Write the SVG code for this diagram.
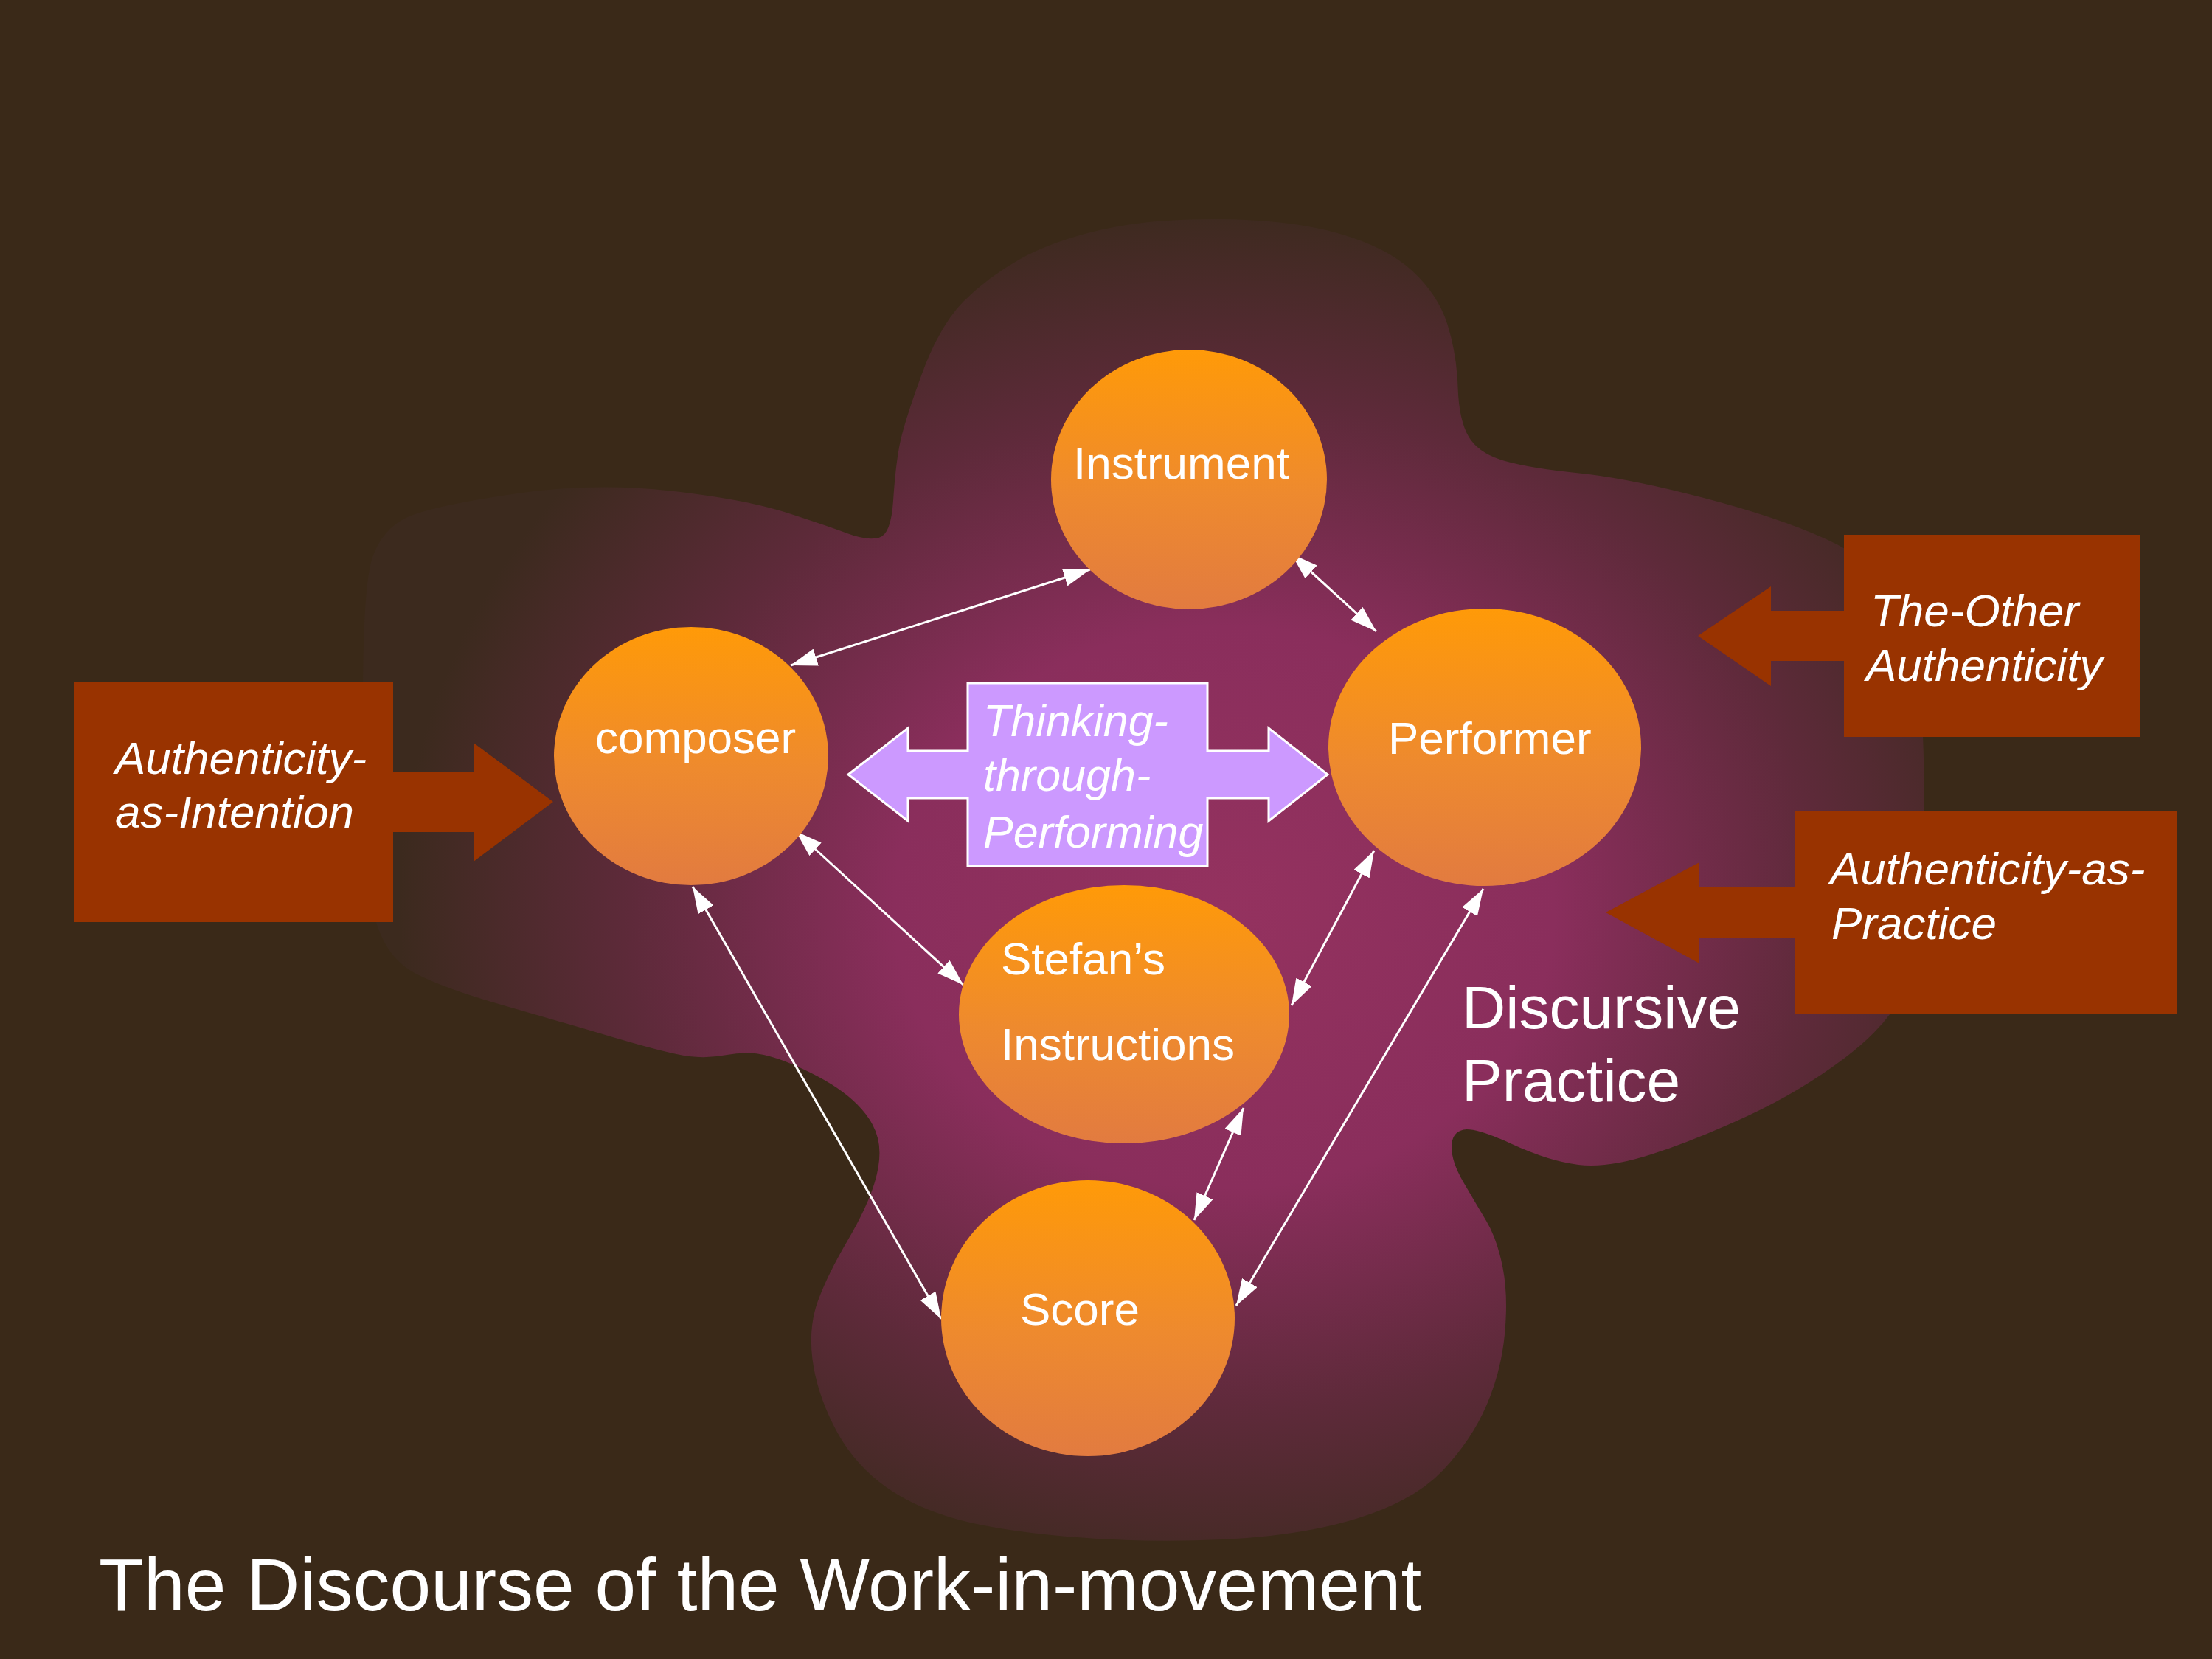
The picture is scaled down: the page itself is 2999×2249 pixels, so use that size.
<svg xmlns="http://www.w3.org/2000/svg" width="2999" height="2249" viewBox="0 0 2999 2249">
<defs>
<style>
.lbl{font-family:"Liberation Sans",Arial,sans-serif;fill:#ffffff;font-size:62px}
.it{font-style:italic}
.node{fill:url(#orange)}
.conn{stroke:#ffffff;stroke-width:3;fill:none;marker-start:url(#ah);marker-end:url(#ah)}
.brown{fill:#993300}
</style>
<linearGradient id="orange" x1="0" y1="0" x2="0" y2="1">
<stop offset="0" stop-color="#ff9a08"/>
<stop offset="0.55" stop-color="#ee8a2e"/>
<stop offset="1" stop-color="#e27b40"/>
</linearGradient>
<radialGradient id="blobg" gradientUnits="userSpaceOnUse" cx="1660" cy="1230" r="1120" gradientTransform="translate(1660 1230) scale(1 0.85) translate(-1660 -1230)">
<stop offset="0" stop-color="#94325f"/>
<stop offset="0.4" stop-color="#8a2e5c"/>
<stop offset="0.72" stop-color="#5e2a3a"/>
<stop offset="1" stop-color="#3c2a1e"/>
</radialGradient>
<marker id="ah" markerUnits="userSpaceOnUse" markerWidth="36" markerHeight="24" refX="36" refY="12" orient="auto-start-reverse" viewBox="0 0 36 24">
<path d="M0,0 L36,12 L0,24 Z" fill="#ffffff"/>
</marker>
</defs>
<rect x="0" y="0" width="2999" height="2249" fill="#3a2918"/>
<g id="discursive-practice">
<path fill="url(#blobg)" d="M1249.5,508 Q1274,441 1306.5,408.5 Q1339,376 1382.5,351.5 Q1426,327 1493,311.5 Q1560,296 1655,297 Q1750,298 1815,316.5 Q1880,335 1915,367.5 Q1950,400 1962.5,440 Q1975,480 1976.5,525 Q1978,570 1991.5,592.5 Q2005,615 2040.5,625 Q2076,635 2141,641.5 Q2206,648 2308,674.5 Q2410,701 2475,730.5 Q2540,760 2570,805 Q2600,850 2606,975 Q2612,1100 2606,1200 Q2600,1300 2580,1345 Q2560,1390 2500,1435 Q2440,1480 2370,1512.5 Q2300,1545 2240,1564.5 Q2180,1584 2140,1579 Q2100,1574 2050,1551 Q2000,1528 1984,1531.5 Q1968,1535 1968,1555 Q1968,1575 1984,1602.5 Q2000,1630 2015,1655 Q2030,1680 2037.5,1719 Q2045,1758 2040,1809 Q2035,1860 2015,1906 Q1995,1952 1956.5,1993 Q1918,2034 1841.5,2058 Q1765,2082 1657.5,2087 Q1550,2092 1447,2083 Q1344,2074 1287,2056.5 Q1230,2039 1191.5,2008.5 Q1153,1978 1130,1932 Q1107,1886 1101.5,1842.5 Q1096,1799 1109,1763.5 Q1122,1728 1149,1682 Q1176,1636 1186,1602.5 Q1196,1569 1190.5,1544.5 Q1185,1520 1162,1497 Q1139,1474 1099.5,1454.5 Q1060,1435 1035.5,1430 Q1011,1425 985.5,1430 Q960,1435 934.5,1432 Q909,1429 832.5,1406.5 Q756,1384 679.5,1362 Q603,1340 564,1320 Q525,1300 510,1250 Q495,1200 492.5,1000 Q490,800 505,756 Q520,712 561.5,697.5 Q603,683 705,668.5 Q807,654 909,665.5 Q1011,677 1066.5,695 Q1122,713 1148.5,723 Q1175,733 1191.5,729 Q1208,725 1211,679 Q1214,633 1219.5,604 Q1225,575 1249.5,508 Z"/>
<text class="lbl" x="1982" y="1394" style="font-size:82px">Discursive</text>
<text class="lbl" x="1982" y="1493" style="font-size:82px">Practice</text>
</g>
<g id="connectors">
<line class="conn" x1="1072" y1="902" x2="1478" y2="772"/>
<line class="conn" x1="1751" y1="751" x2="1866" y2="856"/>
<line class="conn" x1="1079" y1="1127" x2="1306" y2="1335"/>
<line class="conn" x1="1863" y1="1153" x2="1751" y2="1363"/>
<line class="conn" x1="1686" y1="1502" x2="1619" y2="1654"/>
<line class="conn" x1="939" y1="1202" x2="1276" y2="1788"/>
<line class="conn" x1="2011" y1="1205" x2="1676" y2="1770"/>
</g>
<g id="instrument">
<ellipse class="node" cx="1612" cy="650" rx="187" ry="176"/>
<text class="lbl" x="1455" y="649">Instrument</text>
</g>
<g id="composer">
<ellipse class="node" cx="937" cy="1025" rx="186" ry="175"/>
<text class="lbl" x="807" y="1021">composer</text>
</g>
<g id="performer">
<ellipse class="node" cx="2013" cy="1013" rx="212" ry="188"/>
<text class="lbl" x="1882" y="1022">Performer</text>
</g>
<g id="stefans-instructions">
<ellipse class="node" cx="1524" cy="1375" rx="224" ry="175"/>
<text class="lbl" x="1357" y="1321">Stefan’s</text>
<text class="lbl" x="1357" y="1437">Instructions</text>
</g>
<g id="score">
<ellipse class="node" cx="1475" cy="1787" rx="199" ry="187"/>
<text class="lbl" x="1383" y="1796">Score</text>
</g>
<g id="thinking-through-performing">
<path d="M1150,1050 L1231,987 L1231,1018 L1312,1018 L1312,926 L1637,926 L1637,1018 L1720,1018 L1720,987 L1800,1050 L1720,1113 L1720,1082 L1637,1082 L1637,1174 L1312,1174 L1312,1082 L1231,1082 L1231,1113 Z" fill="#cc99ff" stroke="#ffffff" stroke-width="3"/>
<text class="lbl it" x="1333" y="998" style="font-size:61px">Thinking-</text>
<text class="lbl it" x="1333" y="1072" style="font-size:61px">through-</text>
<text class="lbl it" x="1333" y="1149" style="font-size:61px">Performing</text>
</g>
<g id="authenticity-as-intention">
<rect class="brown" x="100" y="925" width="433" height="325"/>
<path class="brown" d="M532,1047 L642,1047 L642,1007 L750,1087 L642,1168 L642,1128 L532,1128 Z"/>
<text class="lbl it" x="156" y="1049">Authenticity-</text>
<text class="lbl it" x="156" y="1122">as-Intention</text>
</g>
<g id="the-other-authenticity">
<rect class="brown" x="2500" y="725" width="401" height="274"/>
<path class="brown" d="M2501,828 L2401,828 L2401,795 L2302,862 L2401,930 L2401,896 L2501,896 Z"/>
<text class="lbl it" x="2536" y="849">The-Other</text>
<text class="lbl it" x="2530" y="923">Authenticity</text>
</g>
<g id="authenticity-as-practice">
<rect class="brown" x="2433" y="1100" width="518" height="274"/>
<path class="brown" d="M2434,1203 L2304,1203 L2304,1169 L2177,1237 L2304,1306 L2304,1271 L2434,1271 Z"/>
<text class="lbl it" x="2481" y="1199">Authenticity-as-</text>
<text class="lbl it" x="2483" y="1273">Practice</text>
</g>
<g id="title">
<text class="lbl" x="134" y="2183" style="font-size:100px">The Discourse of the Work-in-movement</text>
</g>
</svg>
